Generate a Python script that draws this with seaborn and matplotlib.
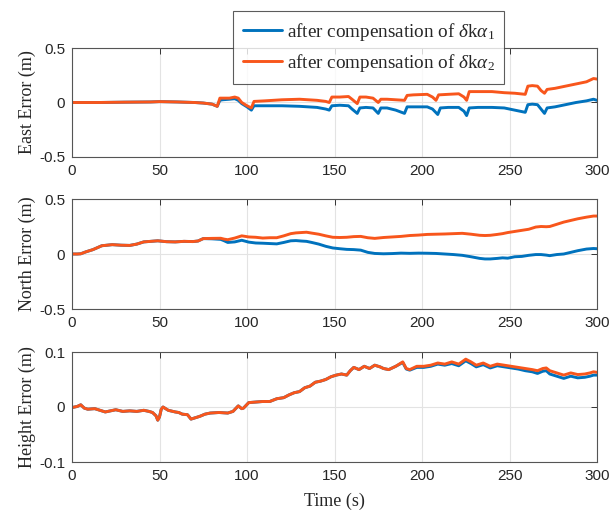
import numpy as np
import pandas as pd
import matplotlib
matplotlib.use("Agg")
import matplotlib.pyplot as plt
import seaborn as sns
from matplotlib.lines import Line2D

# ---------------- data ----------------
series_names = [r"after compensation of $\delta\mathrm{k}\alpha_1$",
                r"after compensation of $\delta\mathrm{k}\alpha_2$"]

# East error
t_east_1 = [0, 15, 30, 45, 50, 60, 70, 75, 80, 83, 84.5, 86, 90, 93, 95, 97, 100, 102.5, 104, 110, 120, 130,
            140, 145, 147, 148.5, 153, 158, 160, 163, 164.5, 168, 172, 175, 176.5, 180, 185, 190, 191.5, 195,
            203, 206, 209, 210.5, 215, 221, 224, 225.5, 227, 232, 240, 247, 253, 259, 260.5, 263, 266, 268,
            270, 271.5, 276, 282, 288, 294, 298, 300]
east_1 = [0.0, 0.0, 0.003, 0.005, 0.008, 0.005, 0.0, -0.005, -0.015, -0.035, 0.02, 0.025, 0.03, 0.035, 0.02,
          -0.01, -0.04, -0.07, -0.03, -0.03, -0.03, -0.035, -0.045, -0.06, -0.07, -0.03, -0.025, -0.03, -0.06,
          -0.10, -0.05, -0.045, -0.05, -0.10, -0.05, -0.05, -0.07, -0.10, -0.04, -0.04, -0.04, -0.06, -0.11,
          -0.05, -0.045, -0.045, -0.08, -0.12, -0.05, -0.045, -0.045, -0.05, -0.07, -0.09, -0.02, -0.015,
          -0.02, -0.06, -0.10, -0.05, -0.04, -0.02, 0.0, 0.015, 0.03, 0.02]
t_east_2 = [0, 15, 30, 45, 50, 60, 70, 75, 80, 83, 84.5, 86, 90, 93, 95, 97, 100, 102.5, 104, 110, 120, 130,
            140, 145, 147, 148.5, 153, 158, 160, 163, 164.5, 168, 172, 175, 176.5, 180, 185, 190, 191.5, 195,
            203, 206, 208, 209.5, 215, 221, 224, 225.5, 227, 232, 240, 247, 253, 259, 260.5, 263, 266, 268,
            270, 271.5, 276, 282, 288, 294, 298, 300]
east_2 = [0.0, 0.0, 0.003, 0.005, 0.008, 0.005, 0.0, -0.005, -0.015, -0.035, 0.04, 0.04, 0.04, 0.05, 0.04,
          0.0, -0.03, -0.05, 0.01, 0.015, 0.025, 0.03, 0.02, 0.01, 0.0, 0.05, 0.05, 0.055, 0.03, -0.01, 0.05,
          0.05, 0.04, 0.0, 0.03, 0.03, 0.025, 0.02, 0.065, 0.07, 0.075, 0.05, 0.02, 0.07, 0.075, 0.08, 0.05,
          0.02, 0.10, 0.10, 0.10, 0.09, 0.085, 0.075, 0.15, 0.155, 0.15, 0.11, 0.085, 0.12, 0.13, 0.15, 0.17,
          0.19, 0.22, 0.215]

# North error
t_north = [0, 3, 5, 8, 12, 17, 20, 23, 28, 33, 37, 41, 45, 49, 54, 59, 64, 69, 72, 75, 80, 85, 87, 89, 93, 97,
           101, 105, 109, 113, 117, 121, 125, 128, 131, 134, 137, 141, 145, 149, 153, 157, 161, 165, 169, 173,
           178, 183, 188, 193, 198, 203, 208, 213, 218, 223, 228, 233, 236, 239, 243, 246, 249, 253, 257, 261,
           265, 268, 271, 273, 277, 281, 285, 289, 294, 298, 300]
north_1 = [0.0, 0.0, 0.002, 0.02, 0.04, 0.075, 0.08, 0.085, 0.08, 0.078, 0.09, 0.11, 0.115, 0.12, 0.112, 0.11,
           0.115, 0.113, 0.118, 0.14, 0.138, 0.133, 0.12, 0.105, 0.11, 0.125, 0.108, 0.1, 0.098, 0.095, 0.092,
           0.105, 0.12, 0.122, 0.118, 0.115, 0.105, 0.09, 0.07, 0.055, 0.048, 0.042, 0.04, 0.035, 0.015, 0.005,
           0.002, 0.004, 0.008, 0.006, 0.008, 0.007, 0.005, 0.0, -0.005, -0.012, -0.025, -0.04, -0.045, -0.045,
           -0.04, -0.035, -0.038, -0.025, -0.022, -0.012, -0.005, -0.005, -0.01, -0.015, -0.005, 0.0, 0.015,
           0.03, 0.045, 0.05, 0.048]
north_2 = [0.0, 0.0, 0.002, 0.02, 0.04, 0.075, 0.08, 0.085, 0.08, 0.078, 0.09, 0.11, 0.115, 0.12, 0.112, 0.11,
           0.115, 0.113, 0.118, 0.14, 0.142, 0.143, 0.135, 0.13, 0.145, 0.165, 0.155, 0.152, 0.145, 0.148, 0.148,
           0.165, 0.185, 0.192, 0.195, 0.198, 0.19, 0.18, 0.165, 0.152, 0.15, 0.152, 0.158, 0.16, 0.148, 0.142,
           0.15, 0.155, 0.16, 0.168, 0.172, 0.178, 0.18, 0.182, 0.185, 0.188, 0.18, 0.17, 0.168, 0.17, 0.178,
           0.185, 0.195, 0.205, 0.215, 0.225, 0.245, 0.25, 0.248, 0.25, 0.27, 0.29, 0.305, 0.32, 0.335, 0.345,
           0.345]

# Height error
t_height = [0, 3, 5, 7, 9, 13, 16, 19, 22, 25, 29, 33, 37, 41, 44, 46, 48, 49, 50, 51, 52, 55, 59, 61, 63, 66,
            68, 70, 73, 76, 79, 84, 89, 92, 95, 97, 98, 101, 105, 109, 113, 117, 121, 124, 127, 130, 133, 136,
            139, 142, 145, 148, 151, 154, 157, 159, 161, 164, 167, 170, 173, 176, 178, 181, 185, 189, 191, 193,
            197, 201, 205, 209, 213, 217, 221, 225, 228, 231, 235, 239, 243, 247, 251, 255, 259, 263, 266, 269,
            271, 273, 277, 281, 285, 289, 293, 296, 298, 300]
height_2 = [-0.001, 0.001, 0.004, -0.002, -0.004, -0.003, -0.006, -0.009, -0.007, -0.005, -0.008, -0.007,
            -0.008, -0.006, -0.008, -0.010, -0.016, -0.024, -0.018, -0.004, 0.000, -0.006, -0.009, -0.010,
            -0.013, -0.014, -0.022, -0.020, -0.017, -0.013, -0.011, -0.010, -0.011, -0.008, 0.002, -0.003,
            -0.002, 0.008, 0.009, 0.010, 0.010, 0.015, 0.017, 0.022, 0.026, 0.028, 0.035, 0.038, 0.045, 0.047,
            0.050, 0.055, 0.058, 0.060, 0.058, 0.066, 0.072, 0.068, 0.074, 0.070, 0.076, 0.073, 0.070, 0.068,
            0.074, 0.082, 0.070, 0.068, 0.074, 0.074, 0.076, 0.080, 0.078, 0.082, 0.078, 0.087, 0.082, 0.076,
            0.080, 0.074, 0.078, 0.076, 0.074, 0.072, 0.070, 0.068, 0.066, 0.070, 0.071, 0.066, 0.062, 0.058,
            0.062, 0.059, 0.060, 0.062, 0.064, 0.063]
height_1 = [-0.001, 0.001, 0.004, -0.002, -0.004, -0.003, -0.006, -0.009, -0.007, -0.005, -0.008, -0.007,
            -0.008, -0.006, -0.008, -0.010, -0.016, -0.024, -0.018, -0.004, 0.000, -0.006, -0.009, -0.010,
            -0.013, -0.014, -0.022, -0.020, -0.017, -0.013, -0.011, -0.010, -0.011, -0.008, 0.002, -0.003,
            -0.002, 0.008, 0.009, 0.010, 0.010, 0.015, 0.017, 0.022, 0.026, 0.028, 0.035, 0.038, 0.045, 0.047,
            0.050, 0.055, 0.058, 0.060, 0.058, 0.066, 0.072, 0.068, 0.074, 0.070, 0.076, 0.073, 0.070, 0.068,
            0.074, 0.081, 0.069, 0.067, 0.072, 0.072, 0.074, 0.078, 0.076, 0.079, 0.075, 0.084, 0.079, 0.073,
            0.077, 0.071, 0.075, 0.073, 0.071, 0.069, 0.066, 0.064, 0.061, 0.065, 0.066, 0.060, 0.056, 0.052,
            0.056, 0.053, 0.054, 0.056, 0.058, 0.058]

ylabels = ["East Error (m)", "North Error (m)", "Height Error (m)"]
ylims = [(-0.5, 0.5), (-0.5, 0.5), (-0.1, 0.1)]
yticks = [[-0.5, 0, 0.5], [-0.5, 0, 0.5], [-0.1, 0, 0.1]]
xticks = [0, 50, 100, 150, 200, 250, 300]
colors = ["#0072BD", "#F8561C"]

# ---------------- style ----------------
sns.set_style("white")
plt.rcParams["font.family"] = ["Liberation Sans", "DejaVu Sans"]
plt.rcParams["mathtext.fontset"] = "custom"
plt.rcParams["mathtext.rm"] = "Liberation Serif"
plt.rcParams["mathtext.it"] = "Liberation Serif:italic"

fig = plt.figure(figsize=(6.09, 5.11), dpi=100)
W, H = 609, 511
boxes = [(48, 157), (199, 309), (352, 462)]
left_px, right_px = 72, 597

panels = [
    (t_east_1, east_1, t_east_2, east_2),
    (t_north, north_1, t_north, north_2),
    (t_height, height_1, t_height, height_2),
]

axes = []
for i, ((top, bot), (ta, ya, tb, yb)) in enumerate(zip(boxes, panels)):
    ax = fig.add_axes([left_px / W, 1 - bot / H, (right_px - left_px) / W, (bot - top) / H])
    df = pd.concat([
        pd.DataFrame({"t": ta, "v": ya, "s": series_names[0]}),
        pd.DataFrame({"t": tb, "v": yb, "s": series_names[1]}),
    ], ignore_index=True)
    sns.lineplot(data=df, x="t", y="v", hue="s", palette=colors, ax=ax,
                 estimator=None, sort=False, linewidth=2.1, legend=False)
    ax.set_xlim(0, 300)
    ax.set_ylim(*ylims[i])
    ax.set_xticks(xticks)
    ax.set_yticks(yticks[i])
    ax.set_yticklabels([("%g" % v) for v in yticks[i]])
    ax.grid(True, color="#e3e3e3", linewidth=0.8)
    ax.set_axisbelow(True)
    for sp in ax.spines.values():
        sp.set_color("#555555")
        sp.set_linewidth(0.8)
    ax.tick_params(direction="in", length=4, width=0.7, color="#333333",
                   top=True, right=True, labelsize=11, labelcolor="#262626", pad=5)
    ax.set_ylabel(ylabels[i], family=["Liberation Serif"], fontsize=13, color="#262626")
    ax.set_xlabel("")
    ax.yaxis.set_label_coords(-0.068, 0.5)
    axes.append(ax)

axes[-1].set_xlabel("Time (s)", family=["Liberation Serif"], fontsize=13, color="#262626", labelpad=7)

handles = [Line2D([], [], color=c, lw=2.1) for c in colors]
leg = fig.legend(handles, series_names, loc="upper left",
                 bbox_to_anchor=(233 / W, 1 - 11 / H),
                 prop={"family": "Liberation Serif", "size": 13.8},
                 frameon=True, fancybox=False, edgecolor="#333333",
                 handlelength=2.05, handletextpad=0.25, borderpad=0.5, labelspacing=0.5,
                 borderaxespad=0)
leg.get_frame().set_linewidth(0.8)
leg.set_zorder(10)

fig.savefig("out.png", dpi=100)
